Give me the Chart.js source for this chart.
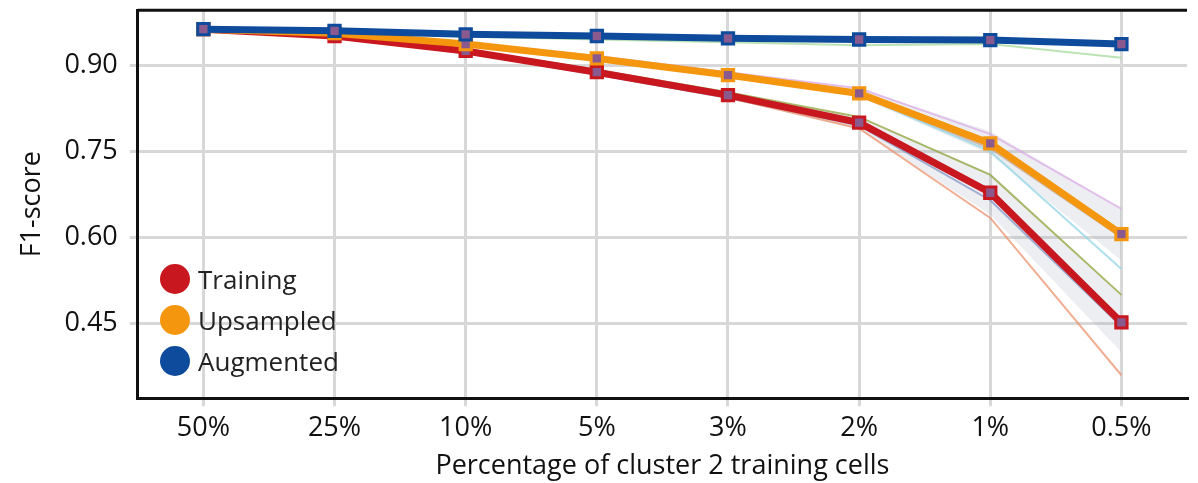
<!DOCTYPE html>
<html>
<head>
<meta charset="utf-8">
<script src="https://cdn.jsdelivr.net/npm/chart.js@4"></script>
<style>
  body { margin: 0; background: #fff; font-family: 'Open Sans', sans-serif; overflow: hidden; }
  #wrap { position: relative; width: 1198px; height: 483px; overflow: hidden; }
  #c { position: absolute; left: 0; top: -18px; }
  .leg { position: absolute; left: 160px; font-size: 26px; color: #222; display: flex; align-items: center; }
  .leg span { display: inline-block; width: 30px; height: 30px; border-radius: 50%; margin-right: 8px; }
</style>
</head>
<body>
<div id="wrap">
  <canvas id="c" width="1198" height="501"></canvas>
  <div class="leg" style="top:261px"><span style="background:#c8171f"></span>Training</div>
  <div class="leg" style="top:302px"><span style="background:#f5960f"></span>Upsampled</div>
  <div class="leg" style="top:343px"><span style="background:#0e4b9c"></span>Augmented</div>
</div>
<script>
var labels = ['50%', '25%', '10%', '5%', '3%', '2%', '1%', '0.5%'];
var training = [0.963, 0.951, 0.925, 0.888, 0.848, 0.800, 0.678, 0.452];
var upsampled = [0.963, 0.956, 0.937, 0.912, 0.883, 0.851, 0.764, 0.606];
var augmented = [0.963, 0.960, 0.954, 0.951, 0.947, 0.945, 0.944, 0.937];

var trainLow = [0.963, 0.949, 0.920, 0.882, 0.842, 0.788, 0.640, 0.400];
var trainHigh = [0.963, 0.953, 0.930, 0.894, 0.855, 0.810, 0.712, 0.500];
var upLow = [0.963, 0.954, 0.933, 0.907, 0.878, 0.845, 0.745, 0.560];
var upHigh = [0.963, 0.958, 0.941, 0.917, 0.889, 0.860, 0.785, 0.650];

var runSalmon = [0.963, 0.950, 0.922, 0.885, 0.844, 0.790, 0.634, 0.360];
var runOlive = [0.963, 0.952, 0.928, 0.892, 0.853, 0.810, 0.709, 0.500];
var runSlate = [0.963, 0.950, 0.922, 0.884, 0.843, 0.795, 0.665, 0.445];
var runPink = [0.963, 0.957, 0.940, 0.916, 0.888, 0.860, 0.780, 0.650];
var runCyan = [0.963, 0.955, 0.935, 0.909, 0.880, 0.848, 0.750, 0.545];
var runTan = [0.963, 0.956, 0.936, 0.910, 0.881, 0.849, 0.755, 0.600];
var runGreen = [0.963, 0.958, 0.950, 0.945, 0.940, 0.935, 0.937, 0.913];

// lower order = drawn on top
function thin(data, color) {
    return { data: data, borderColor: color, borderWidth: 2, pointRadius: 0, fill: false, tension: 0, order: 5 };
}
function band(data, fillTo) {
    return { data: data, borderColor: 'rgba(0,0,0,0)', borderWidth: 0, pointRadius: 0,
             backgroundColor: 'rgba(150,160,175,0.18)', fill: fillTo, order: 10 };
}
function main(data, color, order) {
    return { data: data, borderColor: color, borderWidth: 7, pointStyle: 'rect', pointRadius: 8,
             pointBackgroundColor: '#8a5a8f', pointBorderColor: color, pointBorderWidth: 3,
             fill: false, tension: 0, order: order };
}

new Chart(document.getElementById('c'), {
    type: 'line',
    data: {
        labels: labels,
        datasets: [
            band(trainLow, false), band(trainHigh, 0),
            band(upLow, false), band(upHigh, 2),
            thin(runSalmon, 'rgba(235,140,100,0.7)'),
            thin(runOlive, 'rgba(150,170,70,0.8)'),
            thin(runSlate, 'rgba(110,130,190,0.6)'),
            thin(runPink, 'rgba(220,170,230,0.7)'),
            thin(runCyan, 'rgba(140,210,230,0.7)'),
            thin(runTan, 'rgba(190,160,140,0.7)'),
            thin(runGreen, 'rgba(170,220,160,0.8)'),
            main(training, '#c8171f', 3),
            main(upsampled, '#f5960f', 2),
            main(augmented, '#0e4b9c', 1)
        ]
    },
    options: {
        responsive: false,
        animation: false,
        layout: { padding: { left: 12, right: 0, top: -4, bottom: 0 } },
        plugins: { legend: { display: false }, tooltip: { enabled: false } },
        scales: {
            x: {
                offset: true,
                grid: { color: '#d8d8d8', lineWidth: 3, offset: false },
                border: { color: '#111', width: 3 },
                ticks: { color: '#111', font: { size: 27, family: 'Open Sans' }, padding: 6 },
                title: { display: true, text: 'Percentage of cluster 2 training cells', color: '#111',
                         font: { size: 27, family: 'Open Sans' }, padding: 0 }
            },
            y: {
                min: 0.32, max: 0.996,
                afterBuildTicks: function(axis) {
                    axis.ticks = [0.45, 0.60, 0.75, 0.90].map(function(v) { return { value: v }; });
                },
                grid: { color: '#d8d8d8', lineWidth: 3 },
                border: { color: '#111', width: 3 },
                ticks: { color: '#111', font: { size: 27, family: 'Open Sans' }, padding: 12,
                         callback: function(v) { return v.toFixed(2); } },
                title: { display: true, text: 'F1-score', color: '#111', font: { size: 27, family: 'Open Sans' } }
            }
        }
    },
    plugins: [{
        id: 'topBorder',
        afterDraw: function(chart) {
            var a = chart.chartArea, ctx = chart.ctx;
            ctx.save();
            ctx.strokeStyle = '#111';
            ctx.lineWidth = 3;
            ctx.beginPath();
            ctx.moveTo(a.left, a.top);
            ctx.lineTo(a.right, a.top);
            ctx.stroke();
            ctx.restore();
        }
    }]
});
</script>
</body>
</html>
